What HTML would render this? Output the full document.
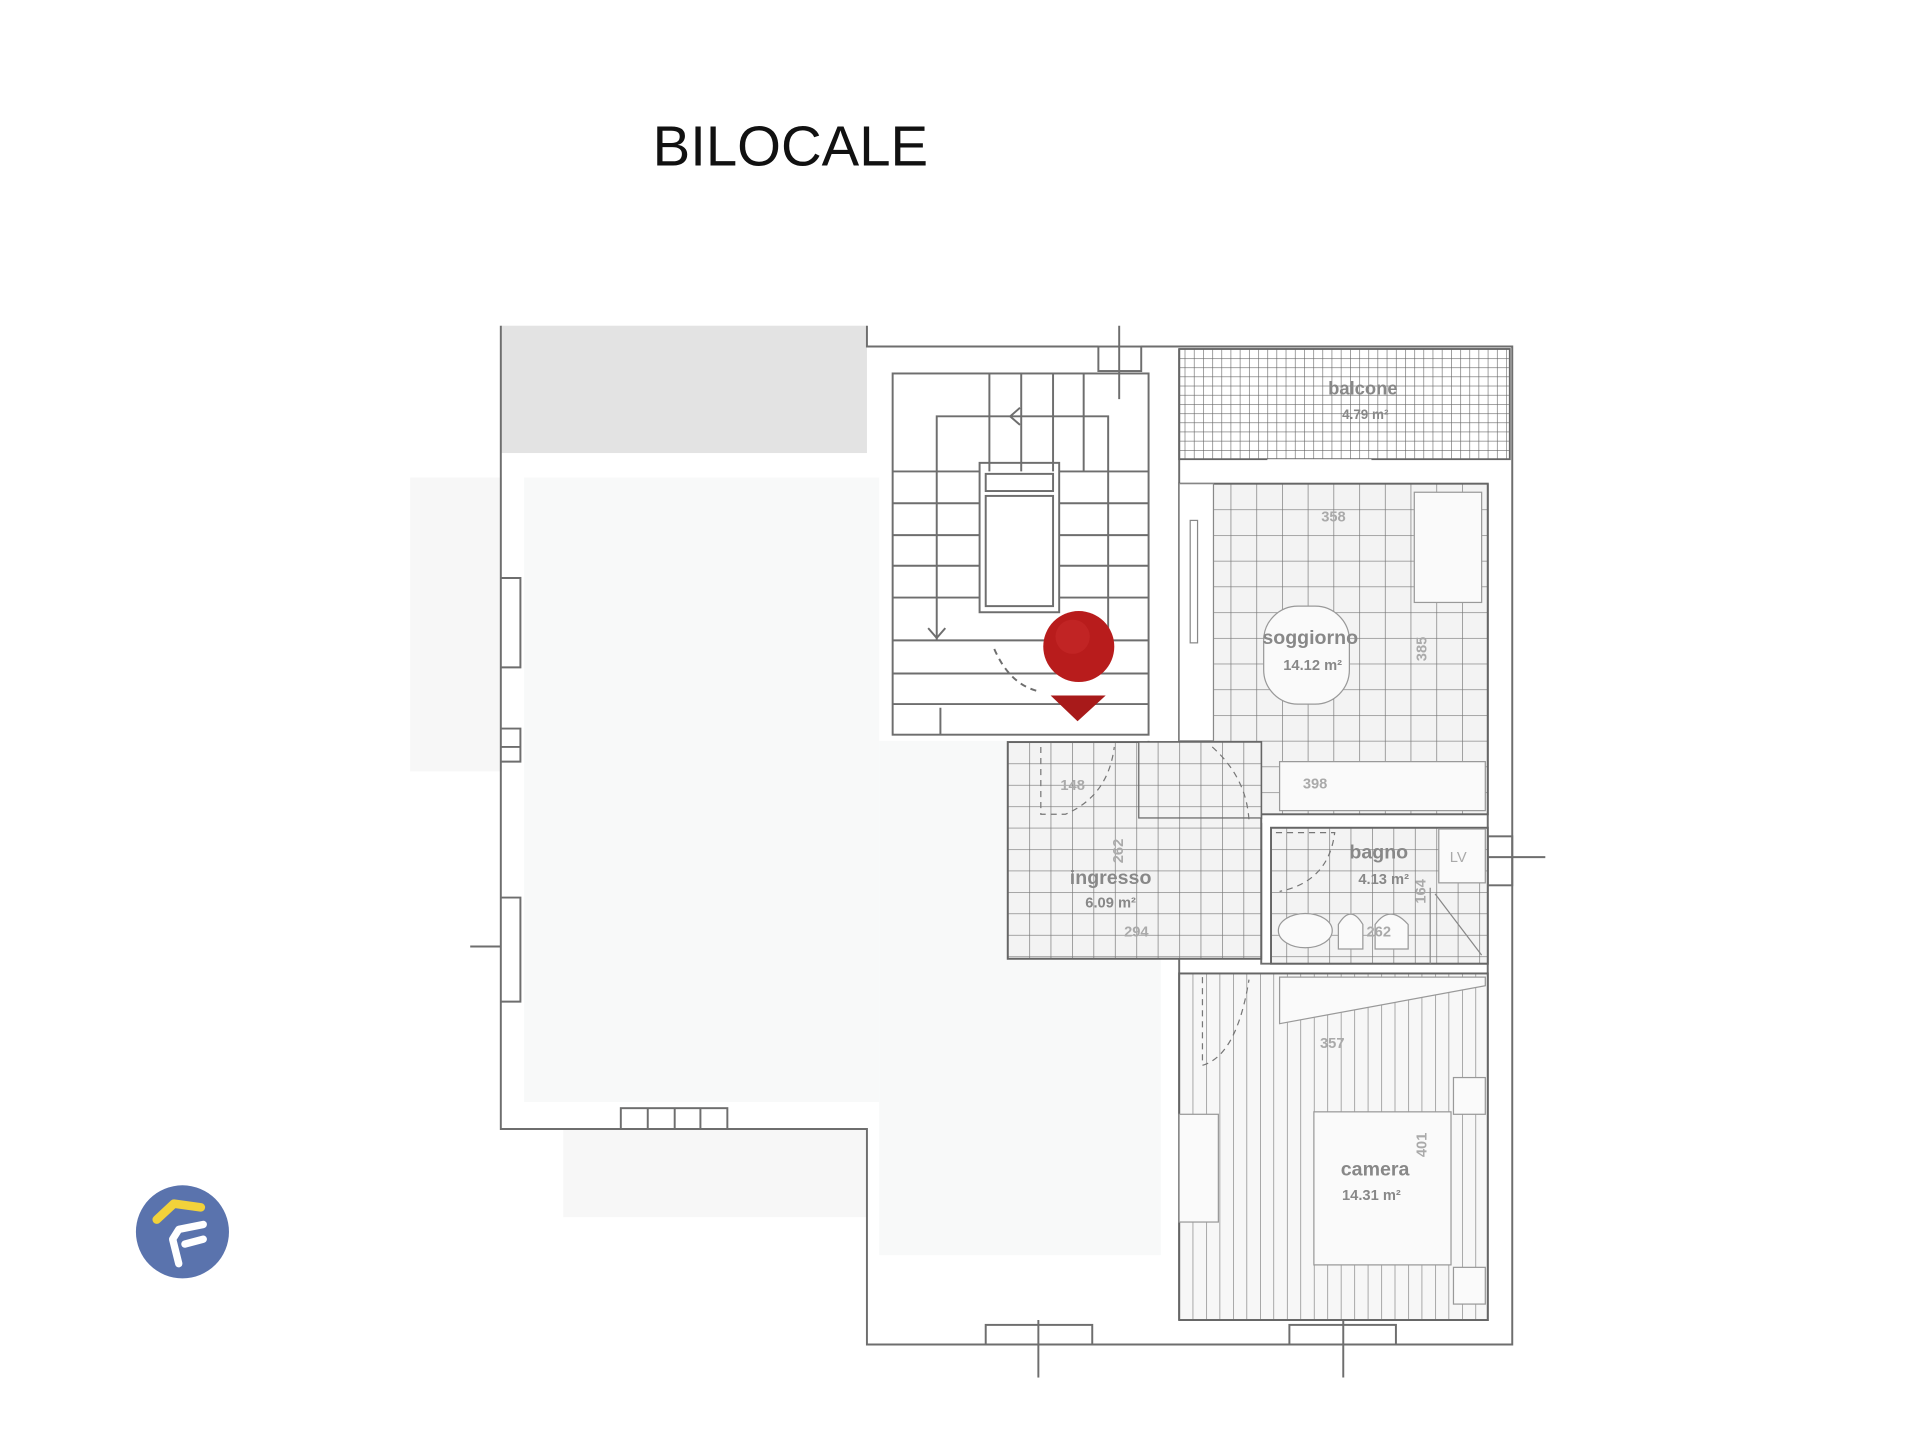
<!DOCTYPE html>
<html><head><meta charset="utf-8"><style>
html,body{margin:0;padding:0;background:#fff;}
svg{display:block}
</style></head><body>
<svg width="1920" height="1440" viewBox="0 0 1568 1176" preserveAspectRatio="none" xmlns="http://www.w3.org/2000/svg" font-family="Liberation Sans, sans-serif">
<defs>
<pattern id="fine" width="7.5" height="7.5" patternUnits="userSpaceOnUse"><path d="M0 0H7.5M0 0V7.5" stroke="#666" stroke-width="1" fill="none"/></pattern>
<pattern id="tile" x="963" y="395" width="21" height="21" patternUnits="userSpaceOnUse"><rect width="21" height="21" fill="#f3f3f3"/><path d="M0 0H21M0 0V21" stroke="#777" stroke-width="1.1" fill="none"/></pattern>
<pattern id="tile2" x="823" y="606" width="17.5" height="17.5" patternUnits="userSpaceOnUse"><rect width="17.5" height="17.5" fill="#f3f3f3"/><path d="M0 0H17.5M0 0V17.5" stroke="#777" stroke-width="1.1" fill="none"/></pattern>
<pattern id="stripe" x="963" width="11" height="20" patternUnits="userSpaceOnUse"><rect width="11" height="20" fill="#f7f7f7"/><path d="M0 0V20" stroke="#777" stroke-width="1" fill="none"/></pattern>
</defs>
<text x="533" y="135" font-size="46" fill="#111">BILOCALE</text>

<!-- faint interior -->
<rect x="428" y="390" width="290" height="510" fill="#f8f9f9"/>
<rect x="718" y="605" width="230" height="420" fill="#f8f9f9"/>
<rect x="335" y="390" width="75" height="240" fill="#f7f7f7"/>
<rect x="460" y="922" width="248" height="72" fill="#f7f7f7"/>

<rect x="409" y="266" width="299" height="104" fill="#e3e3e3"/>

<g fill="none" stroke="#6e6e6e" stroke-width="1.6">
<!-- outer walls -->
<path d="M409 370V922H708V1098H1235V283H932M897 283H708V266"/>
<path d="M409 266V370"/>
<rect x="897" y="283" width="35" height="20"/>
<path d="M914 266V326"/>
<!-- left windows -->
<path d="M409 472H425V545H409M409 595H425V622H409M409 733H425V818H409M409 610H425"/>
<path d="M384 773H409"/>
<!-- bottom windows -->
<rect x="507" y="905" width="87" height="17"/>
<path d="M529 905V922M551 905V922M572 905V922"/>
<rect x="805" y="1082" width="87" height="16"/>
<path d="M848 1078V1125"/>
<rect x="1053" y="1082" width="87" height="16"/>
<path d="M1097 1070V1125"/>
<path d="M1215 700H1262"/>
<rect x="1215" y="683" width="20" height="40"/>
<!-- stairs -->
<rect x="729" y="305" width="209" height="295"/>
<path d="M729 385H800M865 385H938M729 411H800M865 411H938M729 437H800M865 437H938M729 462H800M865 462H938M729 488H800M865 488H938M729 523H938M729 550H938M729 575H938"/>
<path d="M808 305V385M834 305V385M860 305V385M885 305V385"/>
<path d="M765 523V340H905V523"/>
<path d="M833 333L825 340L833 347M758 513L765 521L772 513"/>
<rect x="800" y="378" width="65" height="122"/>
<rect x="805" y="387" width="55" height="14"/>
<rect x="805" y="405" width="55" height="90"/>
<path d="M768 578V600"/>
<path d="M812 530Q825 560 850 565" stroke-dasharray="5 4"/>
<!-- internal walls -->
<path d="M963 285V1078M963 795H1215V1078H963M1215 395V795"/>
<path d="M938 605V668H1030V606M1030 672V787H1215"/>
</g>

<!-- balcone -->
<rect x="963" y="285" width="270" height="90" fill="url(#fine)" stroke="#666" stroke-width="1.5"/>
<rect x="1035" y="375" width="85" height="20" fill="#fff"/>
<!-- soggiorno -->
<rect x="963" y="395" width="252" height="270" fill="url(#tile)" stroke="#666" stroke-width="1.6"/>
<rect x="963" y="395" width="28" height="210" fill="#fff" stroke="#888"/>
<rect x="972" y="425" width="6" height="100" fill="#fff" stroke="#888"/>
<rect x="1155" y="402" width="55" height="90" fill="#fafafa" stroke="#999"/>
<rect x="1032" y="495" width="70" height="80" rx="28" fill="#fafafa" stroke="#999"/>
<rect x="1045" y="622" width="168" height="40" fill="#fafafa" stroke="#999"/>
<!-- ingresso -->
<rect x="823" y="606" width="207" height="177" fill="url(#tile2)" stroke="#666" stroke-width="1.6"/>
<rect x="930" y="606" width="100" height="62" fill="url(#tile2)" stroke="#666"/>
<path d="M850 610V665H870Q905 650 910 610" fill="none" stroke="#777" stroke-dasharray="5 4"/>
<path d="M990 610Q1018 635 1020 670" fill="none" stroke="#777" stroke-dasharray="5 4"/>
<!-- bagno -->
<rect x="1038" y="676" width="177" height="111" fill="url(#tile2)" stroke="#666" stroke-width="1.6"/>
<rect x="1175" y="677" width="38" height="44" fill="#fafafa" stroke="#999"/>
<text x="1184" y="704" font-size="12" fill="#aaa">LV</text>
<path d="M1168 725V787M1172 730L1210 780" stroke="#888" fill="none"/>
<ellipse cx="1066" cy="760" rx="22" ry="14" fill="#fafafa" stroke="#999"/>
<path d="M1093 775V755Q1103 738 1113 755V775ZM1123 775V755Q1135 738 1150 755V775Z" fill="#fafafa" stroke="#999"/>
<path d="M1042 680H1090Q1085 720 1045 728" fill="none" stroke="#777" stroke-dasharray="5 4"/>
<!-- camera -->
<rect x="963" y="795" width="252" height="283" fill="url(#stripe)" stroke="#666" stroke-width="1.6"/>
<path d="M1045 798H1213V805L1045 836Z" fill="#fafafa" stroke="#999"/>
<path d="M982 798V870Q1010 862 1020 800" fill="none" stroke="#777" stroke-dasharray="5 4"/>
<rect x="963" y="910" width="32" height="88" fill="#fafafa" stroke="#999"/>
<rect x="1073" y="908" width="112" height="125" fill="#fafafa" stroke="#999"/>
<rect x="1187" y="880" width="26" height="30" fill="#fafafa" stroke="#999"/>
<rect x="1187" y="1035" width="26" height="30" fill="#fafafa" stroke="#999"/>

<!-- labels -->
<g font-weight="bold" fill="#888" text-anchor="middle">
<text x="1113" y="322" font-size="15">balcone</text>
<text x="1115" y="342" font-size="11">4.79 m²</text>
<text x="1070" y="526" font-size="16">soggiorno</text>
<text x="1072" y="547" font-size="12">14.12 m²</text>
<text x="907" y="722" font-size="16">ingresso</text>
<text x="907" y="741" font-size="12">6.09 m²</text>
<text x="1126" y="701" font-size="16">bagno</text>
<text x="1130" y="722" font-size="12">4.13 m²</text>
<text x="1123" y="960" font-size="16">camera</text>
<text x="1120" y="980" font-size="12">14.31 m²</text>
</g>
<g fill="#aaa" font-size="12" text-anchor="middle" font-weight="bold">
<text x="1089" y="426">358</text>
<text x="1074" y="644">398</text>
<text x="876" y="645">148</text>
<text x="928" y="765">294</text>
<text x="1126" y="765">262</text>
<text x="1088" y="856">357</text>
<text transform="translate(1165 530) rotate(-90)">385</text>
<text transform="translate(917 695) rotate(-90)">262</text>
<text transform="translate(1164 728) rotate(-90)">164</text>
<text transform="translate(1165 935) rotate(-90)">401</text>
</g>

<!-- red marker -->
<circle cx="881" cy="528" r="29" fill="#b81c1c"/>
<circle cx="876" cy="520" r="14" fill="#c62a2a" opacity="0.6"/>
<path d="M858 568H903L880 589Z" fill="#a81a1a"/>

<!-- logo -->
<circle cx="149" cy="1006" r="38" fill="#5a73ad"/>
<path d="M128 996L142 983L164 986" fill="none" stroke="#f2d23a" stroke-width="7" stroke-linecap="round" stroke-linejoin="round"/>
<path d="M166 1000L146 1004L141 1012L146 1032" fill="none" stroke="#fff" stroke-width="6" stroke-linecap="round" stroke-linejoin="round"/>
<path d="M151 1016L166 1012" fill="none" stroke="#fff" stroke-width="6" stroke-linecap="round"/>
</svg>
</body></html>
